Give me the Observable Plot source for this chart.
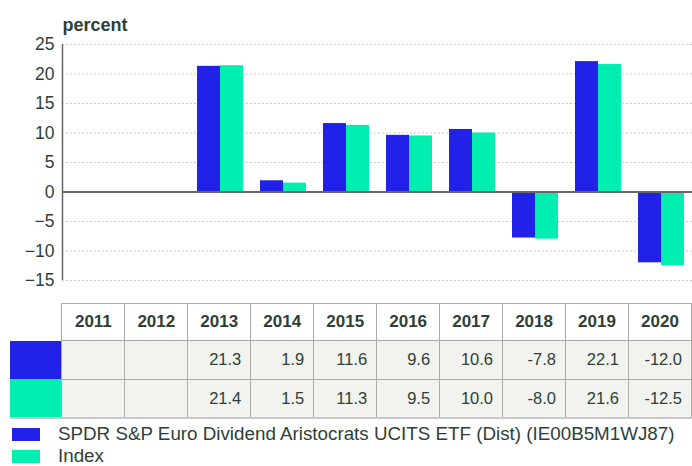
<!DOCTYPE html>
<html>
<head>
<meta charset="utf-8">
<script src="https://cdn.jsdelivr.net/npm/d3@7"></script>
<script src="https://cdn.jsdelivr.net/npm/@observablehq/plot@0.6"></script>
<style>
  body { margin: 0; background: #fff; font-family: "Liberation Sans", Arial, sans-serif; color: #2d3f37; }
  #wrap { position: relative; width: 692px; height: 466px; overflow: hidden; }
  #chart { position: absolute; left: 0; top: 0; }
  table { position: absolute; left: 10px; top: 303px; border-collapse: collapse; table-layout: fixed; }
  td, th { padding: 0; box-sizing: border-box; }
  th { height: 37px; font-weight: bold; font-size: 17px; text-align: center; border: 1px solid #aaa; background: #fff; }
  th.blank { border: none; border-right: 1px solid #aaa; background: #fff; }
  td { height: 38.5px; font-size: 16.5px; text-align: right; padding-right: 9px; background: #f2f2ee; border: 1px solid #aaa; }
  tr.last td { border-bottom: 2px solid #c8c8c8; }
  td.sw { border: none; border-right: 1px solid #aaa; }
  #legend { position: absolute; left: 12px; top: 423px; font-size: 18.8px; }
  .li { display: flex; align-items: center; height: 22px; }
  .li span.s { display: inline-block; width: 28px; height: 13px; margin-right: 18px; }
</style>
</head>
<body>
<div id="wrap">
  <div id="chart"></div>
  <table id="tbl"></table>
  <div id="legend"></div>
</div>
<script>
const years = ["2011","2012","2013","2014","2015","2016","2017","2018","2019","2020"];
const fundName = "SPDR S&P Euro Dividend Aristocrats UCITS ETF (Dist) (IE00B5M1WJ87)";
const indexName = "Index";
const fundValues = [null, null, 21.3, 1.9, 11.6, 9.6, 10.6, -7.8, 22.1, -12.0];
const indexValues = [null, null, 21.4, 1.5, 11.3, 9.5, 10.0, -8.0, 21.6, -12.5];
const yTicks = [-15, -10, -5, 0, 5, 10, 15, 20, 25];
const colors = ["#2121e8", "#00efb1"];
const textColor = "#2d3f37";

const fundData = years.map((y, i) => ({year: y, value: fundValues[i]})).filter(d => d.value != null);
const indexData = years.map((y, i) => ({year: y, value: indexValues[i]})).filter(d => d.value != null);

const chart = Plot.plot({
  width: 692,
  height: 300,
  marginTop: 44,
  marginBottom: 20,
  marginLeft: 62,
  marginRight: 0,
  style: {fontFamily: "Liberation Sans, Arial, sans-serif", color: textColor, background: "transparent"},
  x: {domain: years, padding: 0, axis: null},
  y: {domain: [-15, 25], ticks: yTicks},
  marks: [
    Plot.gridY(yTicks.filter(t => t !== 0), {stroke: "#b8b8b8", strokeOpacity: 1, strokeDasharray: "1.5,2.5"}),
    Plot.barY(fundData, {x: "year", y: "value", fill: colors[0], insetLeft: 9, insetRight: 31}),
    Plot.barY(indexData, {x: "year", y: "value", fill: colors[1], insetLeft: 32, insetRight: 8}),
    Plot.ruleY([0], {stroke: "#666", strokeWidth: 2}),
    Plot.ruleX([years[0]], {dx: -31.5, y1: -15, y2: 25, stroke: "#666", strokeWidth: 1.5}),
    Plot.axisY(yTicks, {tickSize: 0, tickPadding: 8, fontSize: 17.5, fill: textColor, label: null}),
    Plot.text(["percent"], {frameAnchor: "top-left", dy: -26, textAnchor: "start", fontWeight: "bold", fontSize: 18, fill: textColor})
  ]
});
document.getElementById("chart").appendChild(chart);

// table
const tbl = document.getElementById("tbl");
let html = '<colgroup><col style="width:52px">' + years.map(() => '<col style="width:63px">').join("") + '</colgroup>';
html += '<tr><th class="blank"></th>' + years.map(y => `<th>${y}</th>`).join("") + '</tr>';
const fmt = v => v == null ? "" : v.toFixed(1);
html += `<tr><td class="sw" style="background:${colors[0]}"></td>` + fundValues.map(v => `<td>${fmt(v)}</td>`).join("") + '</tr>';
html += `<tr class="last"><td class="sw" style="background:${colors[1]}"></td>` + indexValues.map(v => `<td>${fmt(v)}</td>`).join("") + '</tr>';
tbl.innerHTML = html;

// legend
document.getElementById("legend").innerHTML =
  [[fundName, colors[0]], [indexName, colors[1]]]
    .map(([n, c]) => `<div class="li"><span class="s" style="background:${c}"></span><span>${n.replace(/&/g, "&amp;")}</span></div>`).join("");
</script>
</body>
</html>
